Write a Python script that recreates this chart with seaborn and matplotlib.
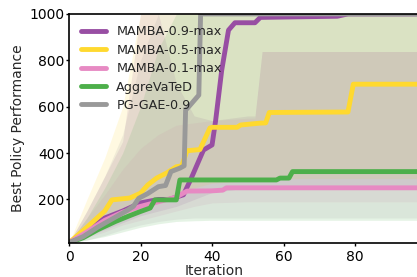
import numpy as np
import pandas as pd
import seaborn as sns
import matplotlib.pyplot as plt

#DATA
names = ["MAMBA-0.9-max", "MAMBA-0.5-max", "MAMBA-0.1-max", "AggreVaTeD", "PG-GAE-0.9"]
colors = ["#984ea3", "#ffd92f", "#e78ac3", "#4daf4a", "#999999"]

# mean curves (iteration, best performance)
m09_x = [0, 5, 10, 15, 20, 25, 28, 32, 34, 37.6, 40, 41, 42.7, 44.6, 46.4, 52, 53.5, 75, 78, 99]
m09_y = [13, 65, 120, 150, 185, 200, 200, 220, 285, 413, 435, 540, 757, 930, 962, 962, 985, 990, 1000, 1000]
m05_x = [0, 5, 10, 12, 17, 20, 22, 24.5, 27.3, 30, 31.5, 33, 36.6, 39.4, 40, 47, 48, 53.4, 55, 56, 78, 79.5, 99]
m05_y = [13, 80, 150, 198, 206, 227, 262, 292, 314, 341, 345, 410, 415, 508, 511, 511, 521, 529, 530, 575, 577, 697, 697]
m01_x = [0, 5, 10, 15, 20, 25, 30, 33, 40, 43, 44, 99]
m01_y = [13, 60, 110, 145, 170, 190, 210, 236, 237, 240, 250, 250]
agg_x = [0, 4, 8, 13, 17, 20, 22.7, 24, 30, 31, 58, 59, 61.5, 62.5, 99]
agg_y = [13, 35, 69, 105, 130, 148, 163, 198, 198, 284, 284, 292, 292, 320, 320]
pg_x = [0, 4, 8, 12, 16, 18, 19.5, 22, 25, 27, 28.5, 31, 32.2, 32.6, 33.5, 36.3, 36.8, 99]
pg_y = [13, 40, 80, 115, 150, 170, 205, 225, 255, 260, 320, 335, 345, 585, 600, 650, 1000, 1000]

# spread bands
band_x = [0, 5, 10, 15, 20, 25, 30, 35, 40, 50, 52, 54, 60, 70, 80, 90, 99]
m09_lo = [13, 40, 70, 100, 130, 150, 170, 200, 230, 250, 250, 250, 250, 250, 250, 250, 250]
m09_hi = [13, 150, 300, 450, 1000, 1000, 700, 560, 540, 560, 560, 838, 838, 838, 838, 838, 838]
m05_lo = [13, 50, 90, 130, 160, 190, 220, 250, 270, 280, 285, 290, 290, 290, 290, 290, 290]
m05_hi = [13, 200, 380, 600, 1000, 1000, 1000, 1000, 1000, 1000, 1000, 1000, 1000, 1000, 1000, 1000, 1000]
m01_lo = [13, 35, 60, 90, 110, 130, 150, 170, 185, 190, 190, 190, 190, 190, 190, 190, 190]
m01_hi = [13, 120, 220, 330, 420, 480, 520, 530, 540, 550, 550, 838, 838, 838, 838, 838, 838]
agg_lo = [13, 25, 40, 60, 80, 95, 105, 108, 110, 110, 110, 110, 110, 110, 110, 110, 110]
agg_hi = [13, 120, 250, 400, 600, 850, 1000, 1000, 1000, 1000, 1000, 1000, 1000, 1000, 1000, 1000, 1000]
pg_lo = [13, 25, 45, 70, 90, 105, 115, 120, 120, 120, 120, 120, 120, 120, 120, 120, 120]
pg_hi = [13, 150, 300, 480, 800, 1000, 1000, 1000, 1000, 1000, 1000, 1000, 1000, 1000, 1000, 1000, 1000]

means = [(m09_x, m09_y), (m05_x, m05_y), (m01_x, m01_y), (agg_x, agg_y), (pg_x, pg_y)]
bands = [(m09_lo, m09_hi), (m05_lo, m05_hi), (m01_lo, m01_hi), (agg_lo, agg_hi), (pg_lo, pg_hi)]

rows = []
for name, (xs, ys) in zip(names, means):
    for x, y in zip(xs, ys):
        rows.append({"Iteration": x, "Perf": y, "method": name})
df = pd.DataFrame(rows)

#PLOT
sns.set_style("ticks")
plt.rcParams["font.family"] = ["DejaVu Sans"]
fig = plt.figure(figsize=(4.17, 2.77), dpi=100)
ax = fig.add_axes([0.1655, 0.1227, 0.849, 0.827])

for (lo, hi), c in zip(bands, colors):
    ax.fill_between(band_x, lo, hi, color=c, alpha=0.14, linewidth=0)

sns.lineplot(data=df, x="Iteration", y="Perf", hue="method", palette=colors,
             hue_order=names, estimator=None, linewidth=3.5, ax=ax)

ax.set_xlim(0, 99)
ax.set_ylim(12, 1000)
ax.set_xticks([0, 20, 40, 60, 80])
ax.set_yticks([200, 400, 600, 800, 1000])
ax.tick_params(labelsize=10, colors="black", length=2.5, width=1)
ax.tick_params(axis="x", pad=2.5)
ax.tick_params(axis="y", pad=1)
for s in ["left", "bottom", "top"]:
    ax.spines[s].set_color("black")
    ax.spines[s].set_linewidth(1.2)
ax.spines["right"].set_visible(False)
ax.set_xlabel("Iteration", fontsize=10)
ax.set_ylabel("Best Policy Performance", fontsize=10)
ax.xaxis.set_label_coords(0.41, -0.092)
ax.yaxis.set_label_coords(-0.125, 0.5)
leg = ax.legend(loc="upper left", frameon=False, fontsize=9.2, labelspacing=0.42)
for line in leg.get_lines():
    line.set_linewidth(3.5)

fig.savefig("out.png", dpi=100)
